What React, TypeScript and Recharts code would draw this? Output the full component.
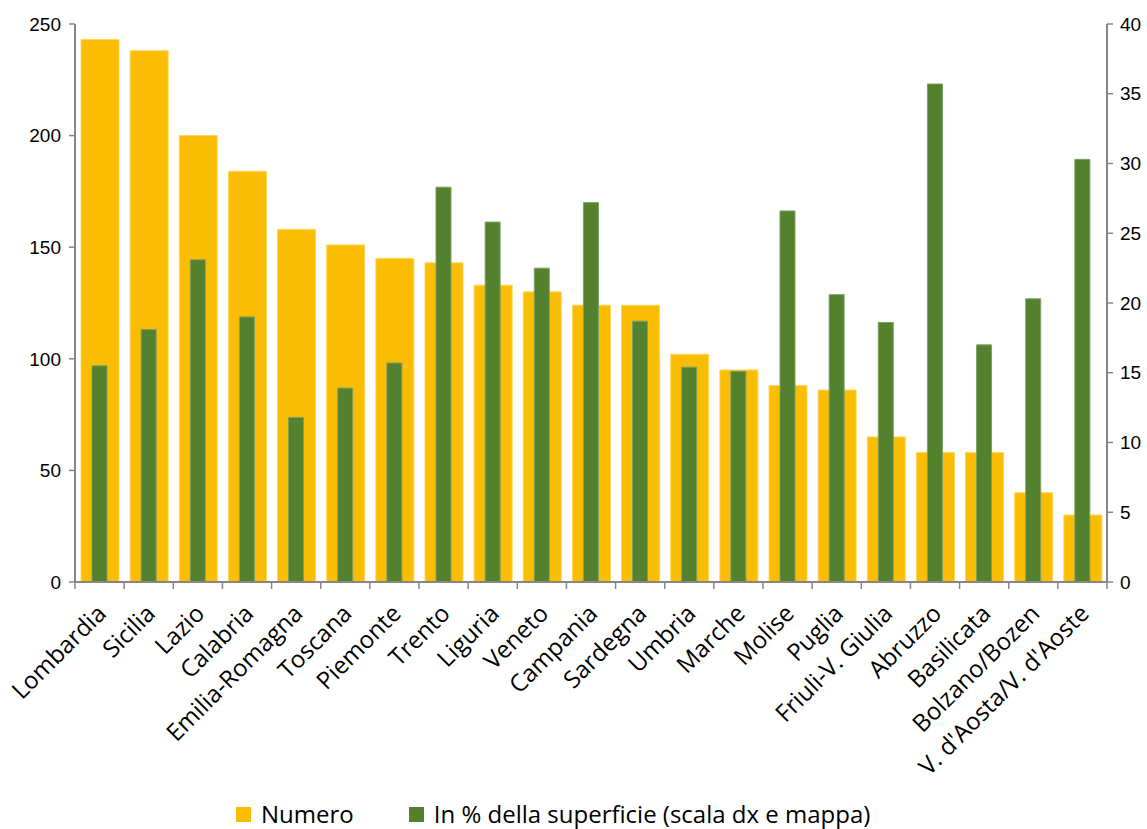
import { BarChart, Bar, XAxis, YAxis, Legend } from "recharts";

const regions = [
  "Lombardia",
  "Sicilia",
  "Lazio",
  "Calabria",
  "Emilia-Romagna",
  "Toscana",
  "Piemonte",
  "Trento",
  "Liguria",
  "Veneto",
  "Campania",
  "Sardegna",
  "Umbria",
  "Marche",
  "Molise",
  "Puglia",
  "Friuli-V. Giulia",
  "Abruzzo",
  "Basilicata",
  "Bolzano/Bozen",
  "V. d'Aosta/V. d'Aoste",
];

const numero = [243, 238, 200, 184, 158, 151, 145, 143, 133, 130, 124, 124, 102, 95, 88, 86, 65, 58, 58, 40, 30];

const percSuperficie = [
  15.5, 18.1, 23.1, 19.0, 11.8, 13.9, 15.7, 28.3, 25.8, 22.5, 27.2, 18.7, 15.4, 15.1, 26.6, 20.6, 18.6, 35.7, 17.0,
  20.3, 30.3,
];

const leftTicks = [0, 50, 100, 150, 200, 250];
const rightTicks = [0, 5, 10, 15, 20, 25, 30, 35, 40];

const seriesNames = ["Numero", "In % della superficie (scala dx e mappa)"];

const ORANGE = "#FBBC04";
const GREEN = "#54812E";
const AXIS = "#868686";

const W = 1147;
const H = 829;
const LEFT_W = 75;
const RIGHT_W = 40;
const BAND = (W - LEFT_W - RIGHT_W) / regions.length;

const data = regions.map((name, i) => ({
  name,
  numero: numero[i],
  perc: percSuperficie[i],
}));

function RegionTick(props: any) {
  const { x, y, payload, index } = props;
  const tx = x + 8;
  const ty = y + 33;
  return (
    <g>
      <line x1={x - BAND / 2} x2={x - BAND / 2} y1={y} y2={y + 7} stroke={AXIS} strokeWidth={1.5} />
      {index === regions.length - 1 && (
        <line x1={x + BAND / 2} x2={x + BAND / 2} y1={y} y2={y + 7} stroke={AXIS} strokeWidth={1.5} />
      )}
      <text
        x={tx}
        y={ty}
        textAnchor="end"
        transform={`rotate(-45, ${tx}, ${ty})`}
        fontFamily="'Open Sans', sans-serif"
        fontSize={24}
        fill="#000"
      >
        {payload.value}
      </text>
    </g>
  );
}

function LegendBox() {
  const colors = [ORANGE, GREEN];
  return (
    <div
      style={{
        display: "flex",
        justifyContent: "flex-start",
        alignItems: "center",
        fontFamily: "'Open Sans', sans-serif",
        fontSize: 24,
        color: "#000",
        gap: 55,
        paddingLeft: 236,
        lineHeight: "30px",
      }}
    >
      {seriesNames.map((n, i) => (
        <div key={n} style={{ display: "flex", alignItems: "center" }}>
          <span style={{ display: "inline-block", width: 15, height: 15, background: colors[i], marginRight: 10 }} />
          <span>{n}</span>
        </div>
      ))}
    </div>
  );
}

export default function App() {
  return (
    <div style={{ position: "absolute", left: 0, top: 0, width: W, height: H, background: "#fff" }}>
      <BarChart width={W} height={H} data={data} margin={{ top: 24, right: 0, bottom: 0, left: 0 }}>
        <XAxis
          xAxisId="a"
          dataKey="name"
          interval={0}
          height={217}
          tickSize={0}
          tickMargin={0}
          tickLine={false}
          axisLine={{ stroke: AXIS, strokeWidth: 2 }}
          tick={<RegionTick />}
        />
        <XAxis xAxisId="b" dataKey="name" hide />
        <YAxis
          yAxisId="left"
          orientation="left"
          width={LEFT_W}
          domain={[0, 250]}
          ticks={leftTicks}
          interval={0}
          tickSize={6}
          tickMargin={8}
          axisLine={{ stroke: AXIS, strokeWidth: 2 }}
          tickLine={{ stroke: AXIS, strokeWidth: 1.5 }}
          tick={{ fill: "#000", fontSize: 19, fontFamily: "Liberation Sans, Arial, sans-serif" }}
        />
        <YAxis
          yAxisId="right"
          orientation="right"
          width={RIGHT_W}
          domain={[0, 40]}
          ticks={rightTicks}
          interval={0}
          tickSize={6}
          tickMargin={7}
          axisLine={{ stroke: AXIS, strokeWidth: 2 }}
          tickLine={{ stroke: AXIS, strokeWidth: 1.5 }}
          tick={{ fill: "#000", fontSize: 19, fontFamily: "Liberation Sans, Arial, sans-serif", textAnchor: "start" }}
        />
        <Legend
          verticalAlign="bottom"
          wrapperStyle={{ height: 30, left: 0, width: W }}
          content={<LegendBox />}
        />
        <Bar
          xAxisId="a"
          yAxisId="left"
          dataKey="numero"
          name={seriesNames[0]}
          fill={ORANGE}
          stroke="#FFD65A"
          strokeWidth={1}
          barSize={38}
          isAnimationActive={false}
        />
        <Bar
          xAxisId="b"
          yAxisId="right"
          dataKey="perc"
          name={seriesNames[1]}
          fill={GREEN}
          stroke="#7FA062"
          strokeWidth={1}
          barSize={15}
          isAnimationActive={false}
        />
      </BarChart>
    </div>
  );
}
